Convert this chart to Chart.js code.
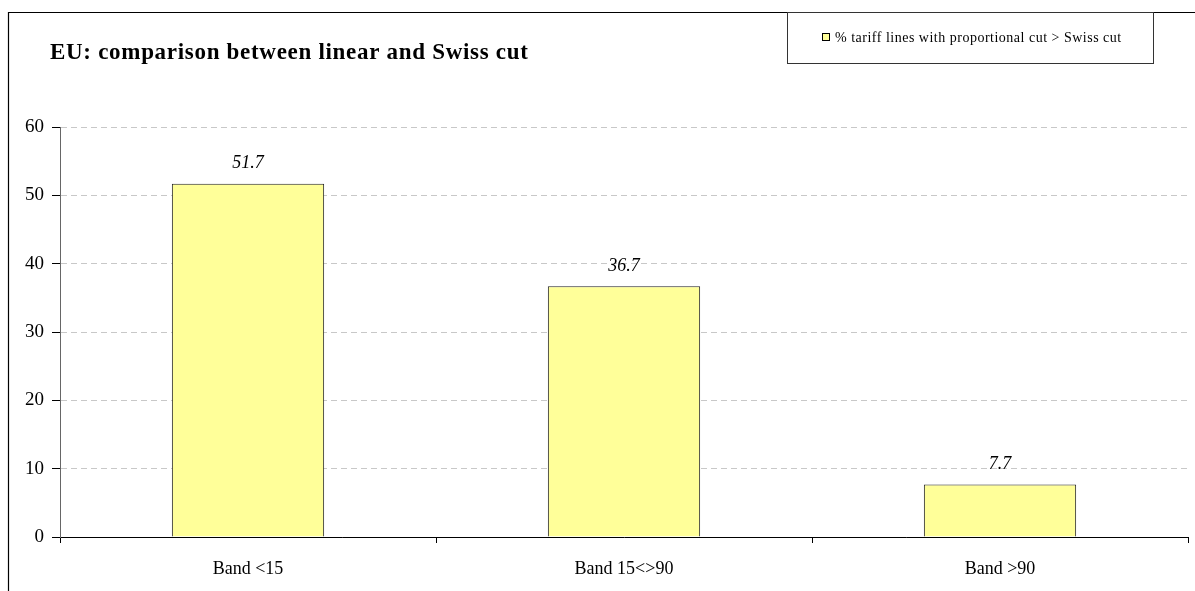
<!DOCTYPE html>
<html>
<head>
<meta charset="utf-8">
<title>EU: comparison between linear and Swiss cut</title>
<script src="https://cdn.jsdelivr.net/npm/chart.js@4"></script>
<style>
  html, body { margin: 0; padding: 0; background: #fff; }
  #wrap { width: 1195px; height: 591px; position: relative; }
</style>
</head>
<body>
<div id="wrap"><canvas id="chart"></canvas></div>
<script>
// Chart data
const chartTitle = 'EU: comparison between linear and Swiss cut';
const bands = ['Band <15', 'Band 15<>90', 'Band >90'];
const shareAboveSwiss = [51.7, 36.7, 7.7];
const seriesLabel = '% tariff lines with proportional cut > Swiss cut';
const yTicks = [0, 10, 20, 30, 40, 50, 60];

const SERIF = '"Liberation Serif", "Times New Roman", serif';

// Frame, title and legend box drawn around the plot
const decorations = {
  id: 'decorations',
  afterDraw(chart) {
    const ctx = chart.ctx;
    ctx.save();
    // outer frame (top and left edges)
    ctx.strokeStyle = '#000';
    ctx.lineWidth = 1.2;
    ctx.beginPath();
    ctx.moveTo(8.5, chart.height);
    ctx.lineTo(8.5, 12.5);
    ctx.lineTo(chart.width, 12.5);
    ctx.stroke();

    // title
    ctx.fillStyle = '#000';
    ctx.font = 'bold 23px ' + SERIF;
    ctx.letterSpacing = '0.7px';
    ctx.textAlign = 'left';
    ctx.textBaseline = 'alphabetic';
    ctx.fillText(chartTitle, 50, 59);

    // legend box
    ctx.lineWidth = 1;
    ctx.strokeStyle = '#333';
    ctx.strokeRect(787.5, 12.5, 366, 51);
    const ds = chart.data.datasets[0];
    ctx.fillStyle = ds.backgroundColor;
    ctx.fillRect(822.5, 33.5, 7, 7);
    ctx.strokeStyle = '#000';
    ctx.strokeRect(822.5, 33.5, 7, 7);
    ctx.fillStyle = '#000';
    ctx.font = '14px ' + SERIF;
    ctx.letterSpacing = '0.5px';
    ctx.fillText(ds.label, 835, 42);

    // value labels above bars
    const meta = chart.getDatasetMeta(0);
    ctx.font = 'italic 18px ' + SERIF;
    ctx.letterSpacing = '0px';
    ctx.textAlign = 'center';
    ctx.textBaseline = 'middle';
    meta.data.forEach((bar, i) => {
      ctx.fillText(ds.data[i].toFixed(1), bar.x, bar.y - 20);
    });
    ctx.restore();
  }
};

new Chart(document.getElementById('chart'), {
  type: 'bar',
  data: {
    labels: bands,
    datasets: [{
      label: seriesLabel,
      data: shareAboveSwiss,
      backgroundColor: '#FFFF99',
      borderColor: '#222',
      borderWidth: 1,
      barPercentage: 0.405,
      categoryPercentage: 1
    }]
  },
  options: {
    responsive: true,
    maintainAspectRatio: false,
    animation: false,
    layout: { padding: { top: 127, right: 7, left: 0, bottom: 0 } },
    plugins: {
      legend: { display: false },
      title: { display: false },
      tooltip: { enabled: false }
    },
    scales: {
      x: {
        offset: true,
        border: { color: '#000', width: 1 },
        grid: {
          offset: true,
          drawOnChartArea: false,
          tickLength: 6,
          tickColor: '#000'
        },
        ticks: {
          color: '#000',
          font: { family: SERIF, size: 18 },
          padding: 15
        },
        afterFit(scale) { scale.height = 54; }
      },
      y: {
        min: 0,
        max: 60,
        border: { color: '#666', width: 1, dash: [6, 4] },
        grid: {
          color: '#c8c8c8',
          tickBorderDash: [],
          tickLength: 8,
          tickColor: '#000'
        },
        afterBuildTicks(scale) {
          scale.ticks = yTicks.map(v => ({ value: v }));
        },
        ticks: {
          color: '#000',
          font: { family: SERIF, size: 19 },
          padding: 8
        },
        afterFit(scale) { scale.width = 60; }
      }
    }
  },
  plugins: [decorations]
});
</script>
</body>
</html>
